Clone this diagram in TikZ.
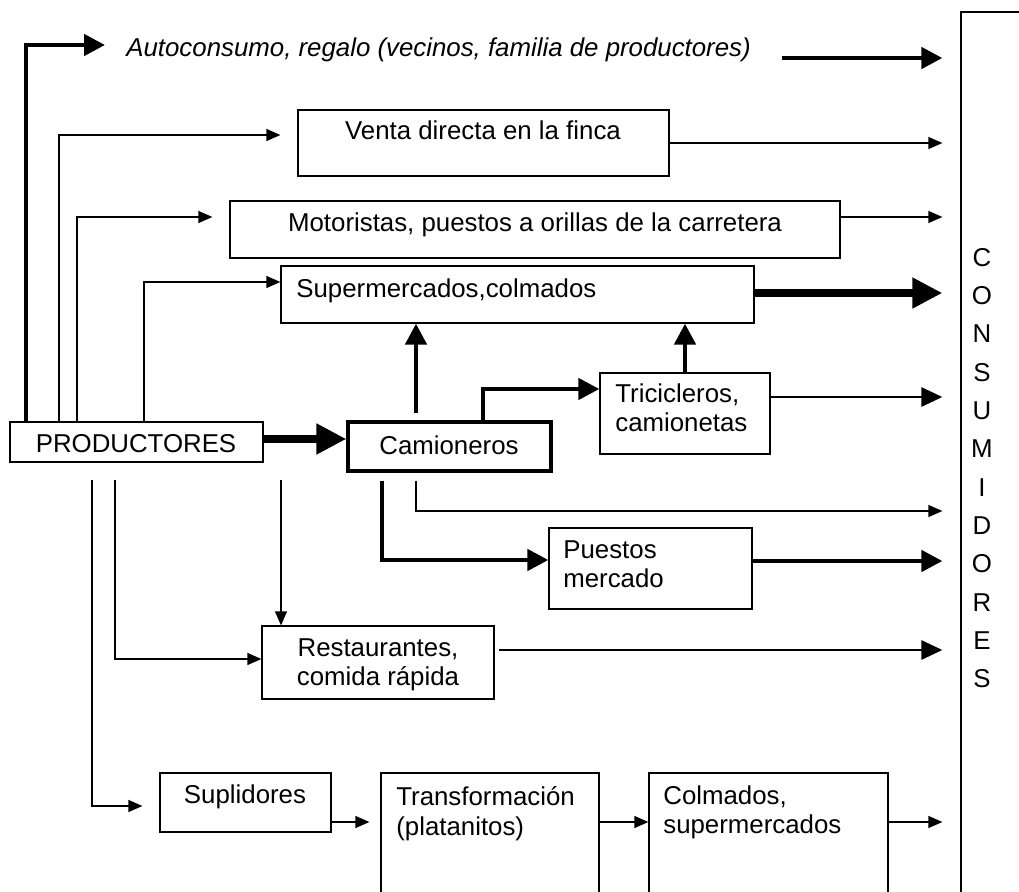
\documentclass[tikz,border=0pt]{standalone}
\usepackage{fontspec}
\setmainfont{Liberation Sans}
\usetikzlibrary{arrows.meta, fit}
\tikzset{
  caja/.style={draw, rectangle, line width=0.7pt, inner sep=0pt},
  texto/.style={inner sep=0pt, font=\fontsize{14.7}{17}\selectfont, align=left},
  fino/.style={line width=0.7pt, -{Triangle[length=0.28cm, width=0.24cm]}},
  medio/.style={line width=1.6pt, -{Triangle[length=0.42cm, width=0.38cm]}},
  grueso/.style={line width=2.6pt, -{Triangle[length=0.42cm, width=0.42cm]}},
  muygrueso/.style={line width=4.5pt, -{Triangle[length=0.6cm, width=0.58cm]}},
  alcons/.style={shorten >=0.36cm}
}

\begin{document}
\begin{tikzpicture}[x=0.02cm, y=-0.02cm]
\useasboundingbox (0,0) rectangle (1019,892);
% Cajas
    \node[caja, fit={(10,422) (263,462)}] (prod) {};
    \node[caja, fit={(298,110) (669,176)}] (venta) {};
    \node[caja, fit={(230,201) (840,258)}] (moto) {};
    \node[caja, fit={(281,266) (754,323)}] (super) {};
    \node[caja, line width=1.8pt, fit={(348,422) (551,471)}] (cam) {};
    \node[caja, fit={(600,373) (770,454)}] (tric) {};
    \node[caja, fit={(549,528) (752,609)}] (puestos) {};
    \node[caja, fit={(262,626) (494,699)}] (rest) {};
    \node[caja, fit={(160,773) (331,832)}] (supl) {};
    \node[caja, fit={(381,773) (599,905)}] (transf) {};
    \node[caja, fit={(649,773) (888,905)}] (colm) {};
    \node[caja, fit={(961,12) (1040,905)}] (consum) {};
% Textos
    \node[texto, anchor=base] (prodtxt) at (136,452) {PRODUCTORES};
    \node[texto, anchor=base west] (auto) at (126,57) {\itshape Autoconsumo, regalo (vecinos, familia de productores)};
    \node[texto, anchor=base] (ventatxt) at (483,140) {Venta directa en la finca};
    \node[texto, anchor=base] (mototxt) at (535,232) {Motoristas, puestos a orillas de la carretera};
    \node[texto, anchor=base west] (supertxt) at (296,297) {Supermercados,colmados};
    \node[texto, anchor=base] (camtxt) at (449,454) {Camioneros};
    \node[texto, anchor=north west] (trictxt) at (615,383) {Tricicleros,\\camionetas};
    \node[texto, anchor=north west] (puestostxt) at (563,540) {Puestos\\mercado};
    \node[texto, anchor=north, align=center] (resttxt) at (378,638) {Restaurantes,\\comida rápida};
    \node[texto, anchor=base] (supltxt) at (245,803) {Suplidores};
    \node[texto, anchor=north west] (transftxt) at (396,786) {Transformación\\(platanitos)};
    \node[texto, anchor=north west] (colmtxt) at (663,785) {Colmados,\\supermercados};
    \node[texto, anchor=north, align=center, font=\fontsize{14.7}{21.8}\selectfont] (consumtxt) at (982,248)
        {C\\O\\N\\S\\U\\M\\I\\D\\O\\R\\E\\S};
    \coordinate (autoini) at (105,45);
    \coordinate (autofin) at (782,58);
% Desde productores
    \draw[grueso] (prod.north -| 26,0) |- (autoini);
    \draw[fino, shorten >=0.34cm] (prod.north -| 59,0) |- (venta.west |- 0,135);
    \draw[fino, shorten >=0.34cm] (prod.north -| 77,0) |- (moto.west |- 0,217);
    \draw[fino] (prod.north -| 144,0) |- (super.west |- 0,282);
    \draw[muygrueso] (prod.east |- 0,439) -- (cam.west |- 0,439);
    \draw[fino, shorten <=0.34cm] (prod.south -| 281,0) -- (rest.north -| 281,0);
    \draw[fino, shorten <=0.34cm] (prod.south -| 115,0) |- (rest.west |- 0,659);
    \draw[fino, shorten <=0.34cm, shorten >=0.34cm] (prod.south -| 92,0) |- (supl.west |- 0,806);
% Camioneros
    \draw[grueso, shorten <=0.14cm] (cam.north -| 416,0) -- (super.south -| 416,0);
    \draw[grueso] (cam.north -| 483,0) |- (tric.west |- 0,389);
    \draw[grueso] (tric.north -| 685,0) -- (super.south -| 685,0);
    \draw[grueso, shorten <=0.16cm] (cam.south -| 382,0) |- (puestos.west |- 0,560);
    \draw[fino, alcons, shorten <=0.16cm] (cam.south -| 416,0) |- (consum.west |- 0,511);
% Cadena de abajo
    \draw[fino, shorten >=0.22cm] (supl.east |- 0,822) -- (transf.west |- 0,822);
    \draw[fino] (transf.east |- 0,822) -- (colm.west |- 0,822);
% Hacia consumidores
    \draw[grueso, alcons] (autofin) -- (consum.west |- autofin);
    \draw[fino, alcons] (venta.east) -- (consum.west |- venta.east);
    \draw[fino, alcons] (moto.east |- 0,217) -- (consum.west |- 0,217);
    \draw[muygrueso, alcons] (super.east |- 0,293) -- (consum.west |- 0,293);
    \draw[medio, alcons] (tric.east |- 0,397) -- (consum.west |- 0,397);
    \draw[grueso, alcons] (puestos.east |- 0,561) -- (consum.west |- 0,561);
    \draw[medio, alcons] (499,650) -- (consum.west |- 0,650);
    \draw[fino, alcons] (colm.east |- 0,822) -- (consum.west |- 0,822);
\end{tikzpicture}
\end{document}
